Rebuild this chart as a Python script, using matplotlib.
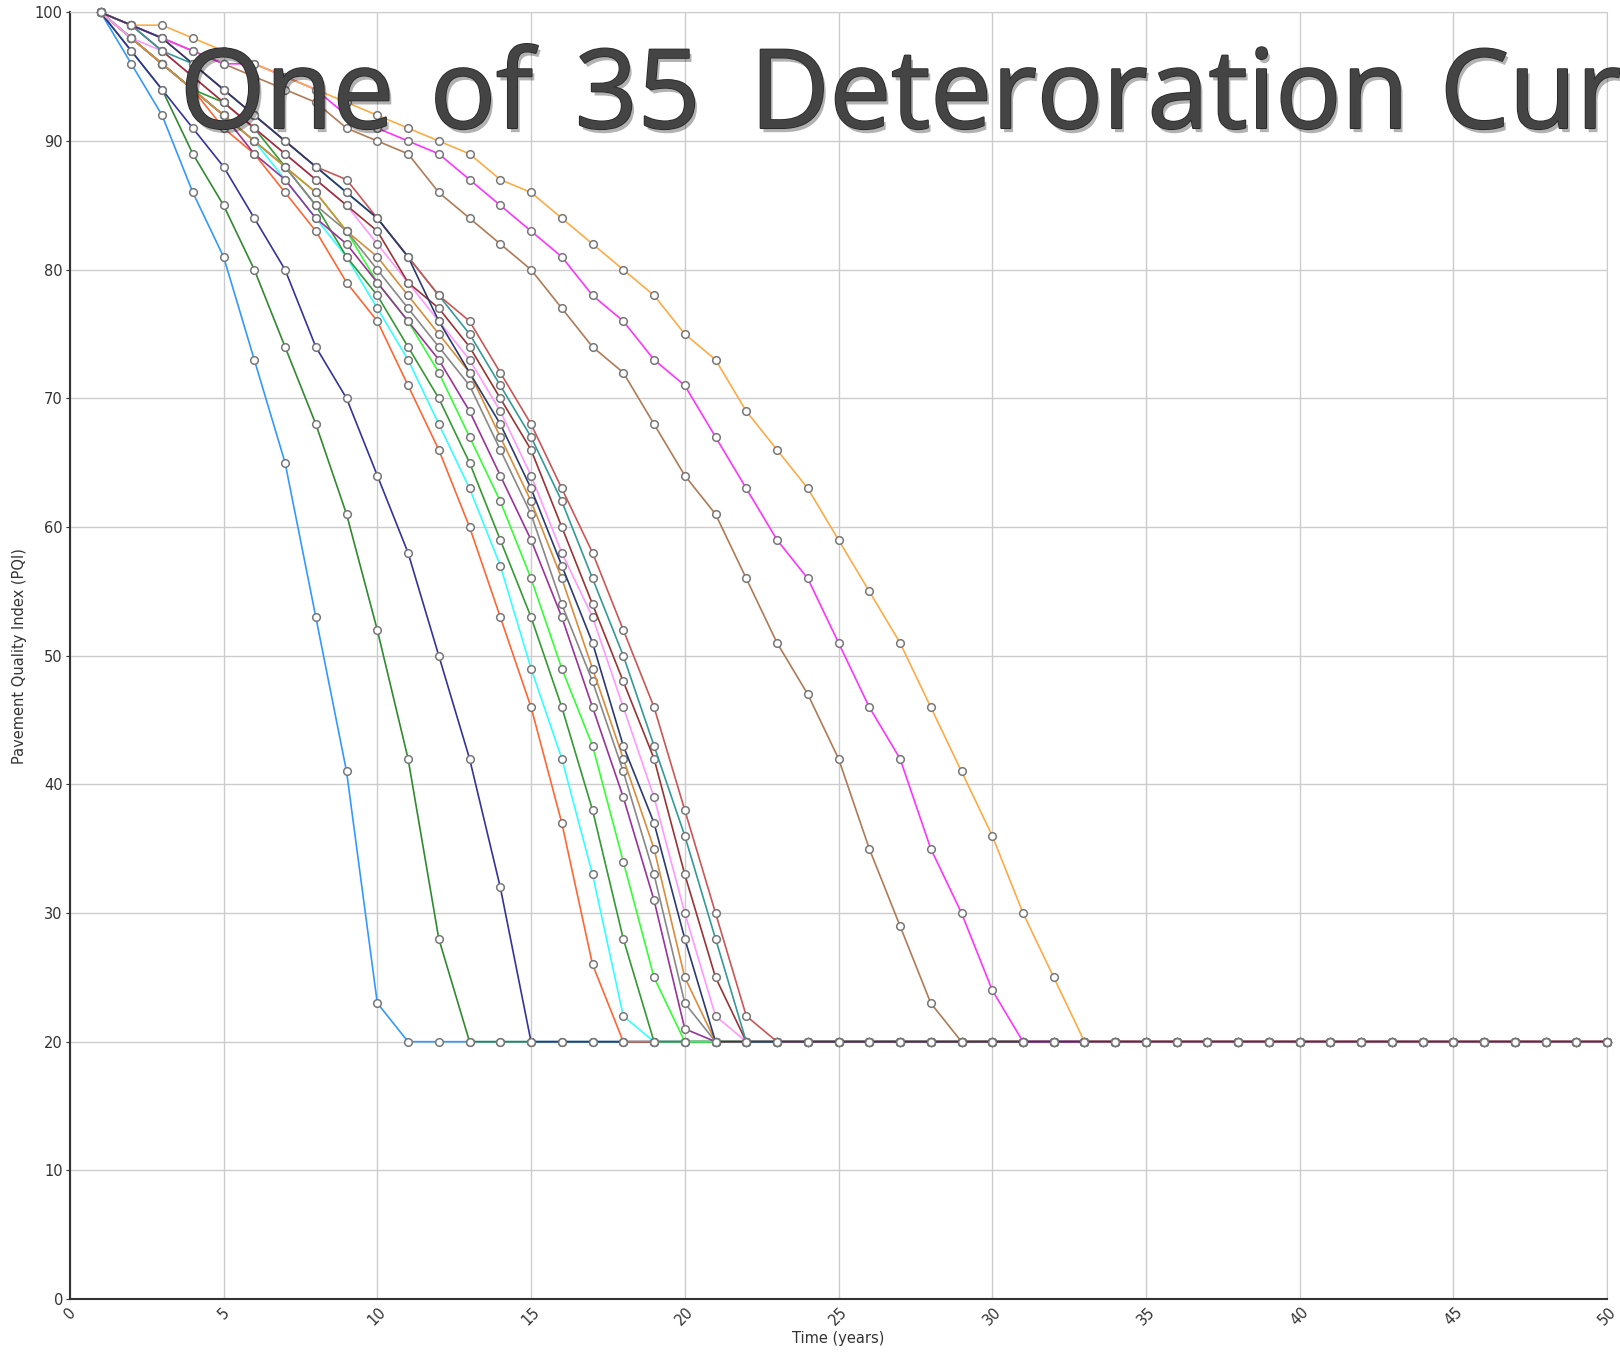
import numpy as np
import matplotlib.pyplot as plt
import matplotlib.patheffects as pe

# PQI readings per year, starting at year 1; every curve stays at the floor afterwards
years = np.arange(1, 51)
FLOOR = 20

light_blue = [100, 96, 92, 86, 81, 73, 65, 53, 41, 23]
dark_green = [100, 97, 94, 89, 85, 80, 74, 68, 61, 52, 42, 28]
navy_fast = [100, 97, 94, 91, 88, 84, 80, 74, 70, 64, 58, 50, 42, 32]
orange_red = [100, 98, 96, 94, 91, 89, 86, 83, 79, 76, 71, 66, 60, 53, 46, 37, 26]
cyan = [100, 98, 96, 94, 92, 90, 87, 84, 81, 77, 73, 68, 63, 57, 49, 42, 33, 22]
green = [100, 98, 96, 94, 93, 91, 88, 85, 81, 78, 74, 70, 65, 59, 53, 46, 38, 28]
lime = [100, 98, 96, 94, 92, 90, 88, 86, 83, 79, 76, 72, 67, 62, 56, 49, 43, 34, 25]
purple = [100, 98, 96, 94, 92, 89, 87, 84, 82, 79, 76, 73, 69, 64, 59, 53, 46, 39, 31, 21]
gray = [100, 98, 96, 94, 92, 90, 88, 85, 83, 80, 77, 74, 71, 66, 61, 54, 48, 41, 33, 23]
orange = [100, 98, 96, 94, 92, 90, 88, 86, 83, 81, 78, 75, 72, 67, 62, 56, 49, 42, 35, 25]
pink = [100, 98, 97, 95, 93, 91, 89, 87, 85, 82, 79, 76, 73, 69, 64, 58, 53, 46, 39, 30, 22]
dark_red = [100, 99, 97, 95, 93, 91, 89, 87, 85, 83, 79, 77, 74, 70, 66, 60, 54, 48, 42, 33, 25]
teal = [100, 99, 97, 96, 94, 92, 90, 88, 86, 84, 81, 78, 75, 71, 67, 62, 56, 50, 43, 36, 28]
indian_red = [100, 99, 98, 96, 94, 92, 90, 88, 87, 84, 81, 78, 76, 72, 68, 63, 58, 52, 46, 38, 30, 22]
tan = [100, 99, 98, 97, 96, 95, 94, 93, 91, 90, 89, 86, 84, 82, 80, 77, 74, 72, 68, 64,
       61, 56, 51, 47, 42, 35, 29, 23]
magenta = [100, 99, 98, 97, 96, 96, 95, 94, 92, 91, 90, 89, 87, 85, 83, 81, 78, 76, 73, 71,
           67, 63, 59, 56, 51, 46, 42, 35, 30, 24]
light_orange = [100, 99, 99, 98, 97, 96, 95, 94, 93, 92, 91, 90, 89, 87, 86, 84, 82, 80, 78, 75,
                73, 69, 66, 63, 59, 55, 51, 46, 41, 36, 30, 25]
navy = [100, 99, 98, 96, 94, 92, 90, 88, 86, 84, 81, 76, 72, 68, 63, 57, 51, 43, 37, 28]

curves = [
    (light_blue, '#3399ff'),
    (dark_green, '#2f8a2f'),
    (navy_fast, '#333399'),
    (orange_red, '#ff6633'),
    (cyan, '#33ffff'),
    (green, '#339933'),
    (lime, '#33ff33'),
    (purple, '#993399'),
    (gray, '#888888'),
    (orange, '#d98c3a'),
    (pink, '#ff99ff'),
    (dark_red, '#993333'),
    (teal, '#339999'),
    (indian_red, '#cc5555'),
    (tan, '#b07a55'),
    (magenta, '#ff33ff'),
    (light_orange, '#ffaa44'),
    (navy, '#2b3a70'),
]

# title words and where each one starts (figure pixels)
title_words = ['One', 'of', '35', 'Deteroration', 'Curves']
title_x = [180, 430, 575, 750, 1440]

fig = plt.figure(figsize=(16.2, 13.54), dpi=100)
ax = fig.add_axes([0.0431, 0.0406, 0.9490, 0.9503])

for values, color in curves:
    y = list(values) + [FLOOR] * (len(years) - len(values))
    ax.plot(years, y, color=color, lw=1.2, marker='o', markersize=5.5,
            markerfacecolor='white', markeredgecolor='#777777', markeredgewidth=1.1,
            clip_on=False, zorder=3)

ax.set_xlim(0, 50)
ax.set_ylim(0, 100)
ax.set_xticks(np.arange(0, 51, 5))
ax.set_yticks(np.arange(0, 101, 10))
ax.grid(True, color='#cccccc', lw=1.0)
ax.set_axisbelow(True)
ax.tick_params(axis='x', length=0, pad=4, labelsize=10.5, labelcolor='#333333', labelrotation=45)
ax.tick_params(axis='y', length=3, pad=2, labelsize=10.5, labelcolor='#333333', color='#333333')
for lbl in ax.get_xticklabels():
    lbl.set_ha('center')
for side in ['top', 'right']:
    ax.spines[side].set_color('#cccccc')
for side in ['left', 'bottom']:
    ax.spines[side].set_color('#333333')
    ax.spines[side].set_linewidth(1.5)

ax.set_xlabel('Time (years)', fontsize=10.5, color='#333333', labelpad=2)
ax.set_ylabel('Pavement Quality Index (PQI)', fontsize=10.5, color='#333333', labelpad=6)

effects = [
    pe.SimplePatchShadow(offset=(2, -3), shadow_rgbFace='black', alpha=0.3),
    pe.withStroke(linewidth=1.5, foreground='#2a2a2a'),
    pe.Normal(),
]
for word, x in zip(title_words, title_x):
    t = fig.text(x / 1620, 1 - 128 / 1354, word, fontsize=79,
                 family=['Open Sans', 'DejaVu Sans'], color='#444444',
                 va='baseline', ha='left', zorder=10)
    t.set_path_effects(effects)

fig.savefig('out.png', dpi=100)
